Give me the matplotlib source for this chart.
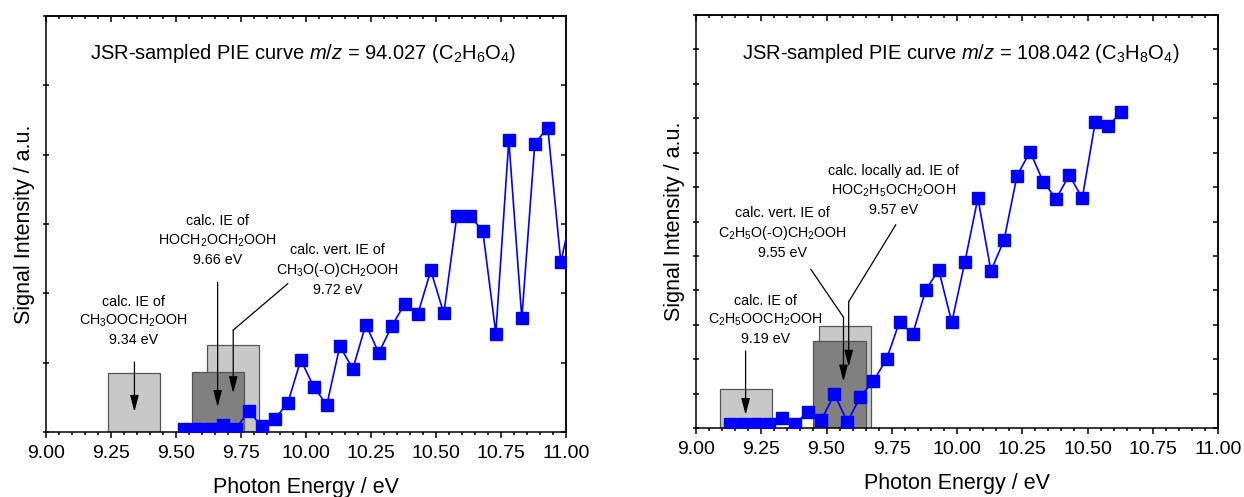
import matplotlib
matplotlib.use("Agg")
import matplotlib.pyplot as plt
from matplotlib.ticker import MultipleLocator, FormatStrFormatter, NullFormatter
from matplotlib.patches import Rectangle

plt.rcParams['font.family'] = ['Liberation Sans', 'DejaVu Sans']
plt.rcParams['mathtext.fontset'] = 'custom'
plt.rcParams['mathtext.rm'] = 'Liberation Sans'
plt.rcParams['mathtext.it'] = 'Liberation Sans:italic'
plt.rcParams['mathtext.bf'] = 'Liberation Sans:bold'

# m/z 94.027 PIE curve
e94 = [9.53, 9.58, 9.63, 9.68, 9.73, 9.78, 9.83, 9.88, 9.93, 9.98,
       10.03, 10.08, 10.13, 10.18, 10.23, 10.28, 10.33, 10.38, 10.43, 10.48,
       10.53, 10.58, 10.63, 10.68, 10.73, 10.78, 10.83, 10.88, 10.93, 10.98, 11.03]
s94 = [0.05, 0.05, 0.05, 0.10, 0.05, 0.30, 0.08, 0.19, 0.42, 1.04,
       0.65, 0.39, 1.24, 0.91, 1.55, 1.14, 1.53, 1.85, 1.70, 2.33,
       1.71, 3.11, 3.12, 2.90, 1.42, 4.21, 1.64, 4.16, 4.39, 2.45, 3.30]

# m/z 108.042 PIE curve
e108 = [9.13, 9.18, 9.23, 9.28, 9.33, 9.38, 9.43, 9.48, 9.53, 9.58,
        9.63, 9.68, 9.73, 9.78, 9.83, 9.88, 9.93, 9.98, 10.03, 10.08,
        10.13, 10.18, 10.23, 10.28, 10.33, 10.38, 10.43, 10.48, 10.53, 10.58, 10.63]
s108 = [0.13, 0.13, 0.13, 0.13, 0.28, 0.13, 0.47, 0.23, 0.98, 0.18,
        0.91, 1.37, 2.00, 3.09, 2.72, 4.01, 4.59, 3.07, 4.82, 6.68,
        4.57, 5.45, 7.33, 8.03, 7.16, 6.66, 7.35, 6.68, 8.90, 8.78, 9.19]

# calculated ionization energies: (IE, bar height, bar shade)
ie94 = [(9.34, 0.85, '#c8c8c8'), (9.72, 1.25, '#c8c8c8'), (9.66, 0.86, '#808080')]
ie108 = [(9.19, 1.12, '#c8c8c8'), (9.57, 2.95, '#c8c8c8'), (9.55, 2.54, '#808080')]
bar_width = 0.2

labels94 = [
    ("calc. IE of\nCH$_3$OOCH$_2$OOH\n9.34 eV", 9.335, 1.60),
    ("calc. IE of\nHOCH$_2$OCH$_2$OOH\n9.66 eV", 9.66, 2.76),
    ("calc. vert. IE of\nCH$_3$O(-O)CH$_2$OOH\n9.72 eV", 10.12, 2.34),
]
labels108 = [
    ("calc. IE of\nC$_2$H$_5$OOCH$_2$OOH\n9.19 eV", 9.265, 3.14),
    ("calc. vert. IE of\nC$_2$H$_5$O(-O)CH$_2$OOH\n9.55 eV", 9.33, 5.67),
    ("calc. locally ad. IE of\nHOC$_2$H$_5$OCH$_2$OOH\n9.57 eV", 9.758, 6.90),
]

# arrow paths: list of (x, y) vertices, last one gets the head
arrows94 = [
    [(9.34, 1.01), (9.34, 0.29)],
    [(9.66, 2.16), (9.66, 0.36)],
    [(9.93, 2.14), (9.72, 1.47), (9.72, 0.56)],
]
arrows108 = [
    [(9.19, 2.24), (9.19, 0.38)],
    [(9.44, 4.61), (9.565, 3.22), (9.565, 1.35)],
    [(9.765, 5.90), (9.585, 3.67), (9.585, 1.78)],
]

titles = ["JSR-sampled PIE curve $\\it{m/z}$ = 94.027 (C$_2$H$_6$O$_4$)",
          "JSR-sampled PIE curve $\\it{m/z}$ = 108.042 (C$_3$H$_8$O$_4$)"]

fig = plt.figure(figsize=(12.44, 4.97), dpi=100)
ax1 = fig.add_axes([0.037, 0.1308, 0.418, 0.837])
ax2 = fig.add_axes([0.5595, 0.1388, 0.4196, 0.831])


def draw_panel(ax, energy, signal, ies, labels, arrows, title, ymax, title_pos):
    for ie, h, shade in ies:
        ax.add_patch(Rectangle((ie - bar_width / 2, 0), bar_width, h,
                               facecolor=shade, edgecolor='#555555', lw=0.9, zorder=1))

    ax.plot(energy, signal, color='#0000ff', lw=1.2, marker='s', markersize=9,
            markeredgecolor='#0000ff', zorder=3)

    for txt, x, y in labels:
        ax.text(x, y, txt, ha='center', va='center', fontsize=10.3,
                linespacing=1.35, zorder=4)

    for path in arrows:
        if len(path) > 2:
            xs = [p[0] for p in path[:-1]]
            ys = [p[1] for p in path[:-1]]
            ax.plot(xs, ys, color='black', lw=0.9, zorder=4)
        ax.annotate('', xy=path[-1], xytext=path[-2],
                    arrowprops=dict(arrowstyle='-|>,head_length=0.5,head_width=0.13',
                                    color='black', lw=0.9, mutation_scale=20,
                                    shrinkA=0, shrinkB=0), zorder=4)

    ax.text(title_pos[0], title_pos[1], title, transform=ax.transAxes,
            ha='center', va='center', fontsize=14.5)

    ax.set_xlim(9.0, 11.0)
    ax.set_ylim(0, ymax)
    ax.xaxis.set_major_locator(MultipleLocator(0.25))
    ax.xaxis.set_minor_locator(MultipleLocator(0.05))
    ax.xaxis.set_major_formatter(FormatStrFormatter('%.2f'))
    ax.yaxis.set_major_locator(MultipleLocator(1))
    ax.yaxis.set_major_formatter(NullFormatter())

    ax.tick_params(axis='x', which='major', direction='out', length=4.5, width=1.1,
                   labelsize=14, pad=5)
    ax.tick_params(axis='x', which='minor', direction='out', length=2.3, width=1.1)
    ax.tick_params(axis='y', which='major', direction='inout', length=5, width=1.1)

    # mirrored ticks on top and right, pointing inward
    top = ax.secondary_xaxis('top')
    top.xaxis.set_major_locator(MultipleLocator(0.25))
    top.xaxis.set_minor_locator(MultipleLocator(0.05))
    top.tick_params(axis='x', which='major', direction='in', length=4.5, width=1.1,
                    labeltop=False)
    top.tick_params(axis='x', which='minor', direction='in', length=2.3, width=1.1)
    right = ax.secondary_yaxis('right')
    right.yaxis.set_major_locator(MultipleLocator(1))
    right.tick_params(axis='y', direction='in', length=3.5, width=1.1, labelright=False)
    for sp in list(top.spines.values()) + list(right.spines.values()):
        sp.set_linewidth(1.1)

    for sp in ax.spines.values():
        sp.set_linewidth(1.1)

    ax.set_xlabel("Photon Energy / eV", fontsize=15.5, labelpad=11)
    ax.set_ylabel("Signal Intensity / a.u.", fontsize=15.5, labelpad=2)


draw_panel(ax1, e94, s94, ie94, labels94, arrows94, titles[0], 6, (0.494, 0.911))
draw_panel(ax2, e108, s108, ie108, labels108, arrows108, titles[1], 12, (0.508, 0.908))

fig.savefig("out.png", dpi=100, facecolor='white')
